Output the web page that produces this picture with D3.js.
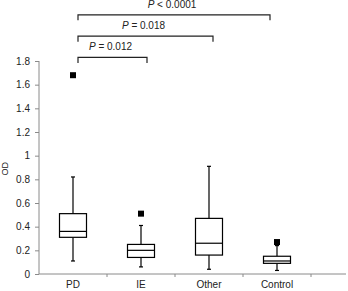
<!DOCTYPE html>
<html>
<head>
<meta charset="utf-8">
<script src="https://cdn.jsdelivr.net/npm/d3@7"></script>
<style>
  body { margin: 0; background: #fff; }
  svg { display: block; font-family: "Liberation Sans", Arial, sans-serif; }
</style>
</head>
<body>
<svg id="chart"></svg>
<script>
// data
const groups = ["PD", "IE", "Other", "Control"]
const whiskerLow = [0.11, 0.06, 0.04, 0.03]
const q1 = [0.31, 0.14, 0.16, 0.09]
const median = [0.36, 0.20, 0.26, 0.11]
const q3 = [0.51, 0.25, 0.47, 0.15]
const whiskerHigh = [0.82, 0.41, 0.91, 0.24]
const outliers = [[1.68], [0.51], [], [0.27]]
const yTicks = [0, 0.2, 0.4, 0.6, 0.8, 1, 1.2, 1.4, 1.6, 1.8]
const bracketTo = ["IE", "Other", "Control"]
const bracketOp = ["=", "=", "<"]
const bracketP = ["0.012", "0.018", "0.0001"]

const width = 348, height = 291

const svg = d3.select("#chart")
    .attr("width", width)
    .attr("height", height)

// one extra empty slot on the right, like the original
const x = d3.scaleBand()
    .domain([...groups, "_"])
    .range([39, 379])
    .padding(0)

const y = d3.scaleLinear()
    .domain([0, 1.8])
    .range([274, 61])

const axisColor = "#8a8a8a"

// y axis
const yAxis = svg.append("g")
    .attr("transform", "translate(39,0)")
    .call(d3.axisLeft(y).tickValues(yTicks).tickSize(4).tickPadding(5)
        .tickFormat(d => d === 0 ? "0" : String(+d.toFixed(1))))
yAxis.select(".domain").attr("stroke", axisColor).attr("d", "M0," + y(0) + "V" + y(1.8))
yAxis.selectAll(".tick line").attr("stroke", axisColor)
yAxis.selectAll(".tick text").attr("fill", "#222").style("font-size", "10px")

// x axis
const xAxisG = svg.append("g").attr("transform", "translate(0," + y(0) + ")")
xAxisG.append("line")
    .attr("x1", 39).attr("x2", 346)
    .attr("stroke", axisColor)
xAxisG.selectAll(".xt")
    .data(x.domain().slice(1))
    .join("line")
    .attr("x1", d => x(d)).attr("x2", d => x(d))
    .attr("y1", 0).attr("y2", 3)
    .attr("stroke", axisColor)
xAxisG.selectAll("text")
    .data(groups)
    .join("text")
    .attr("x", d => x(d) + x.bandwidth() / 2)
    .attr("y", 14)
    .attr("text-anchor", "middle")
    .attr("fill", "#222")
    .style("font-size", "10px")
    .text(d => d)

// y label
svg.append("text")
    .attr("transform", "translate(8," + y(0.89) + ") rotate(-90)")
    .attr("text-anchor", "middle")
    .attr("fill", "#222")
    .style("font-size", "9px")
    .text("OD")

// boxes
const boxW = 27, capW = 4
const rows = groups.map((g, i) => ({
    g, lo: whiskerLow[i], q1: q1[i], med: median[i], q3: q3[i], hi: whiskerHigh[i], out: outliers[i]
}))
const box = svg.selectAll(".box")
    .data(rows)
    .join("g")
    .attr("class", "box")
    .attr("transform", d => "translate(" + (x(d.g) + x.bandwidth() / 2) + ",0)")

box.append("line")
    .attr("y1", d => y(d.lo)).attr("y2", d => y(d.q1))
    .attr("stroke", "#000").attr("stroke-width", 1.2)
box.append("line")
    .attr("y1", d => y(d.q3)).attr("y2", d => y(d.hi))
    .attr("stroke", "#000").attr("stroke-width", 1.2)
box.append("line")
    .attr("x1", -capW / 2).attr("x2", capW / 2)
    .attr("y1", d => y(d.lo)).attr("y2", d => y(d.lo))
    .attr("stroke", "#000").attr("stroke-width", 1.2)
box.append("line")
    .attr("x1", -capW / 2).attr("x2", capW / 2)
    .attr("y1", d => y(d.hi)).attr("y2", d => y(d.hi))
    .attr("stroke", "#000").attr("stroke-width", 1.2)
box.append("rect")
    .attr("x", -boxW / 2).attr("width", boxW)
    .attr("y", d => y(d.q3)).attr("height", d => y(d.q1) - y(d.q3))
    .attr("fill", "#fff").attr("stroke", "#000").attr("stroke-width", 1.2)
box.append("line")
    .attr("x1", -boxW / 2).attr("x2", boxW / 2)
    .attr("y1", d => y(d.med)).attr("y2", d => y(d.med))
    .attr("stroke", "#000").attr("stroke-width", 1.2)
box.selectAll(".out")
    .data(d => d.out)
    .join("rect")
    .attr("x", -3).attr("width", 6)
    .attr("y", v => y(v) - 3).attr("height", 6)
    .attr("fill", "#000")

// significance brackets
const brY = [1.83, 2.01, 2.19]
const rightShift = [6, 4, -7]
const brackets = bracketTo.map((g, i) => ({
    x1: x("PD") + x.bandwidth() / 2 + 5,
    x2: x(g) + x.bandwidth() / 2 + rightShift[i],
    yy: y(brY[i]),
    op: bracketOp[i], p: bracketP[i]
}))
const br = svg.selectAll(".br")
    .data(brackets)
    .join("g")
    .attr("class", "br")
br.append("path")
    .attr("d", d => "M" + d.x1 + "," + (d.yy + 5.5) + "V" + d.yy + "H" + d.x2 + "V" + (d.yy + 5.5))
    .attr("fill", "none")
    .attr("stroke", "#222")
    .attr("stroke-width", 1.2)
const lab = br.append("text")
    .attr("x", d => (d.x1 + d.x2) / 2 - 2)
    .attr("y", d => d.yy - 7)
    .attr("text-anchor", "middle")
    .attr("fill", "#222")
    .style("font-size", "10px")
lab.append("tspan").style("font-style", "italic").text("P")
lab.append("tspan").text(d => " " + d.op + " " + d.p)
</script>
</body>
</html>
